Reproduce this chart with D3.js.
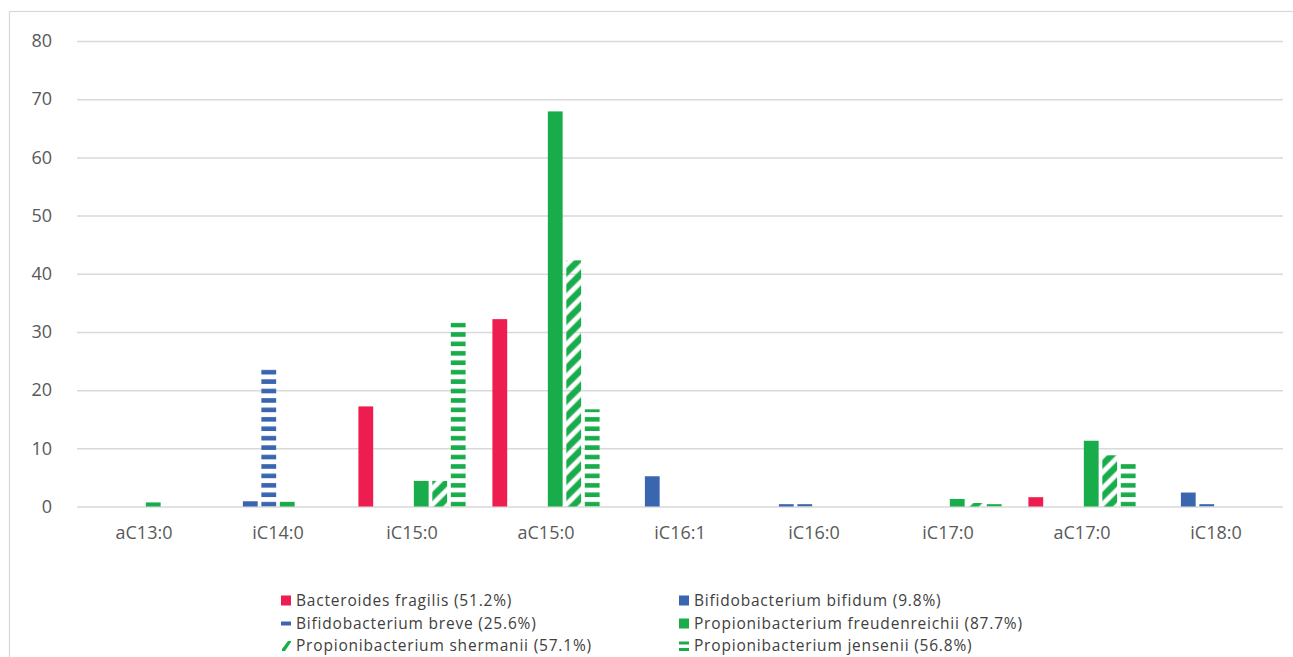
<!DOCTYPE html>
<html>
<head>
<meta charset="utf-8">
<script src="https://cdn.jsdelivr.net/npm/d3@7"></script>
<style>
  html, body { margin: 0; padding: 0; background: #fff; }
  svg { display: block; font-family: "Open Sans", "Liberation Sans", sans-serif; }
</style>
</head>
<body>
<svg id="chart" width="1293" height="657"></svg>
<script>
// Fatty acids (x categories)
const categories = ["aC13:0", "iC14:0", "iC15:0", "aC15:0", "iC16:1", "iC16:0", "iC17:0", "aC17:0", "iC18:0"];

// Strains, in drawing order
const seriesNames = [
  "Bacteroides fragilis (51.2%)",
  "Bifidobacterium bifidum (9.8%)",
  "Bifidobacterium breve (25.6%)",
  "Propionibacterium freudenreichii (87.7%)",
  "Propionibacterium shermanii (57.1%)",
  "Propionibacterium jensenii (56.8%)"
];

// Percent of each fatty acid, one array per strain (same order as categories)
const fragilis        = [0,   0,    17.2, 32.2, 0,   0,   0,   1.6,  0];
const bifidum         = [0,   0.9,  0,    0,    5.2, 0.4, 0,   0,    2.4];
const breve           = [0,   23.6, 0,    0,    0,   0.4, 0,   0,    0.4];
const freudenreichii  = [0.7, 0.8,  4.4,  67.9, 0,   0,   1.3, 11.3, 0];
const shermanii       = [0,   0,    4.4,  42.3, 0,   0,   0.6, 8.8,  0];
const jensenii        = [0,   0,    31.6, 16.7, 0,   0,   0.4, 7.4,  0];

const yTicks = [0, 10, 20, 30, 40, 50, 60, 70, 80];

const seriesValues = [fragilis, bifidum, breve, freudenreichii, shermanii, jensenii];

const RED = "#EE1D4F", BLUE = "#3A66AF", GREEN = "#19AC4B";
const fills = ["solid", "solid", "hdash", "solid", "diag", "hdash"];
const colors = [RED, BLUE, BLUE, GREEN, GREEN, GREEN];

const svg = d3.select("#chart");

// Outer chart frame
svg.append("rect")
  .attr("x", 9.5).attr("y", 11.5)
  .attr("width", 1320).attr("height", 700)
  .attr("fill", "none").attr("stroke", "#D9D9D9").attr("stroke-width", 1.2);

const x0 = d3.scaleBand().domain(categories).range([77, 1283]).paddingInner(0.2).paddingOuter(0.1);
const x1 = d3.scaleBand().domain(d3.range(seriesNames.length)).range([0, x0.bandwidth()]).paddingInner(0.2).paddingOuter(0);
const y = d3.scaleLinear().domain([0, 80]).range([506.5, 41]);

// Fill patterns
const defs = svg.append("defs");
const dashPeriod = 9.43, dashH = 4.6;
function dashPattern(id, color) {
  const p = defs.append("pattern").attr("id", id)
    .attr("patternUnits", "userSpaceOnUse")
    .attr("x", 0).attr("y", y(0))
    .attr("width", 40).attr("height", dashPeriod);
  p.append("rect").attr("x", 0).attr("y", dashPeriod - dashH)
    .attr("width", 40).attr("height", dashH).attr("fill", color);
}
dashPattern("dash-blue", BLUE);
dashPattern("dash-green", GREEN);

const P = 16;
const diag = defs.append("pattern").attr("id", "diag-green")
  .attr("patternUnits", "userSpaceOnUse")
  .attr("x", 0).attr("y", y(0))
  .attr("width", P).attr("height", P);
diag.append("path")
  .attr("d", `M${-P/2},${P/2} L${P/2},${-P/2} M0,${P} L${P},0 M${P/2},${P*1.5} L${P*1.5},${P/2}`)
  .attr("stroke", GREEN).attr("stroke-width", 6.5).attr("fill", "none");

function fillFor(i) {
  if (fills[i] === "hdash") return colors[i] === BLUE ? "url(#dash-blue)" : "url(#dash-green)";
  if (fills[i] === "diag") return "url(#diag-green)";
  return colors[i];
}

// Gridlines and y tick labels
const yAxis = d3.axisLeft(y).tickValues(yTicks).tickSize(-(1283 - 77)).tickPadding(25);
const gy = svg.append("g").attr("transform", "translate(77,0)").call(yAxis);
gy.select(".domain").remove();
gy.selectAll(".tick line").attr("stroke", "#D9D9D9").attr("stroke-width", 1.5);
gy.selectAll(".tick text")
  .attr("fill", "#595959").attr("font-size", 18)
  .attr("font-family", "'Open Sans', sans-serif");

// x category labels
const xAxis = d3.axisBottom(x0).tickSize(0).tickPadding(20);
const gx = svg.append("g").attr("transform", `translate(0,${y(0)})`).call(xAxis);
gx.select(".domain").remove();
gx.selectAll(".tick text")
  .attr("fill", "#595959").attr("font-size", 18)
  .attr("font-family", "'Open Sans', sans-serif");

// Bars
const groups = svg.append("g").selectAll("g")
  .data(categories)
  .join("g")
  .attr("transform", d => `translate(${x0(d)},0)`);

groups.selectAll("rect")
  .data((c, ci) => seriesValues.map((vals, si) => ({ si, v: vals[ci] })).filter(d => d.v > 0))
  .join("rect")
  .attr("x", d => x1(d.si))
  .attr("width", x1.bandwidth())
  .attr("y", d => y(d.v))
  .attr("height", d => y(0) - y(d.v))
  .attr("fill", d => fillFor(d.si));

// Legend
const legendCols = [281, 679];
const legendRows = [600.5, 623.5, 646];
const leg = svg.append("g");
seriesNames.forEach((name, i) => {
  const lx = legendCols[i % 2], ly = legendRows[Math.floor(i / 2)];
  const g = leg.append("g").attr("transform", `translate(${lx},${ly})`);
  if (fills[i] === "solid") {
    g.append("rect").attr("x", 0).attr("y", -5).attr("width", 10).attr("height", 10).attr("fill", colors[i]);
  } else if (fills[i] === "hdash" && colors[i] === BLUE) {
    g.append("rect").attr("x", 0).attr("y", -2).attr("width", 10).attr("height", 4).attr("fill", colors[i]);
  } else if (fills[i] === "hdash") {
    g.append("rect").attr("x", 0).attr("y", -4.5).attr("width", 10).attr("height", 3).attr("fill", colors[i]);
    g.append("rect").attr("x", 0).attr("y", 2).attr("width", 10).attr("height", 3).attr("fill", colors[i]);
  } else {
    g.append("path").attr("d", "M1,5 L4,5 L10,-4 L10,-5 L7,-5 L1,3 Z").attr("fill", colors[i]);
  }
  g.append("text")
    .attr("x", 15).attr("y", 0).attr("dy", "0.35em")
    .attr("fill", "#404040").attr("font-size", 15.5)
    .attr("letter-spacing", 0.8)
    .attr("font-family", "'Open Sans', sans-serif")
    .text(name);
});
</script>
</body>
</html>
